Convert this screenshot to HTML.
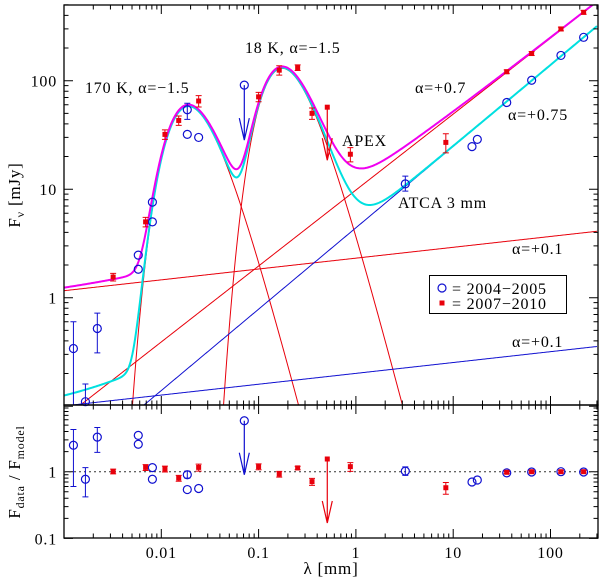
<!DOCTYPE html>
<html><head><meta charset="utf-8"><style>
html,body{margin:0;padding:0;background:#fff;width:600px;height:582px;overflow:hidden}
svg{display:block;font-family:"Liberation Serif",serif;letter-spacing:0.8px}
</style></head><body>
<svg id="chart" width="600" height="582" viewBox="0 0 600 582" xmlns="http://www.w3.org/2000/svg">
<defs><clipPath id="ctop"><rect x="64" y="5" width="534" height="400"/></clipPath>
<clipPath id="cbot"><rect x="64" y="405" width="534" height="133"/></clipPath></defs>
<g id="topPanel"></g>
<g id="botPanel"></g>
</svg>
<script>
// ---- data ----
const blueLam = [0.00125,0.00166,0.0022,0.0058,0.0058,0.0081,0.0081,0.0185,0.0185,0.0242,3.22,15.6,17.7,35.5,64,128,219];
const blueFlux = [0.34,0.11,0.52,2.47,1.83,7.6,5.0,32,54,30,11.2,24.7,28.8,63,101,171,251];
const blueErrLo = [0.1,0.1,0.31,0,0,0,0,0,44,0,9.6,0,0,0,0,0,0];
const blueErrHi = [0.6,0.16,0.72,0,0,0,0,0,62,0,13.2,0,0,0,0,0,0];
const blueRatio = [2.49,0.77,3.3,3.5,2.58,1.15,0.77,0.54,0.90,0.56,1.02,0.70,0.75,0.96,0.99,1.0,0.99];
const blueRatioLo = [0.6,0.42,1.95,0,0,0,0,0,0.8,0,0.88,0,0,0,0,0,0];
const blueRatioHi = [4.3,1.15,4.6,0,0,0,0,0,1.02,0,1.18,0,0,0,0,0,0];
const blueLimLam = [0.0713]; const blueLimFlux = [91]; const blueLimRatio = [5.8];
const redLam = [0.0032,0.0069,0.0109,0.0151,0.0242,0.1,0.163,0.252,0.354,0.877,8.4,35.5,64,128,219];
const redFlux = [1.55,5.0,32,43,65,71,125,132,50,21,27,121,178,300,427];
const redErrFrac = [0.08,0.1,0.1,0.1,0.12,0.1,0.1,0.06,0.12,0.15,0.2,0.04,0.04,0.04,0.04];
const redRatio = [1.01,1.16,1.10,0.80,1.16,1.19,0.92,1.14,0.71,1.19,0.575,0.98,1.0,1.0,1.0];
const redLimLam = [0.508]; const redLimFlux = [57]; const redLimRatio = [1.55];
// model parameters
const bbTemps = [170, 18.5]; const bbPeaks = [58, 130]; const bbIndex = 4.5;
const redPL = [[1.16,0.001,0.1],[427,219,0.7]];
const bluePL = [[0.355,300,0.1],[251,219,0.75]];
const xTicks = [0.01,0.1,1,10,100]; const xTickLabels = ["0.01","0.1","1","10","100"];
const yTopTicks = [1,10,100]; const yTopLabels = ["1","10","100"];
const yBotTicks = [0.1,1]; const yBotLabels = ["0.1","1"];

// ---- axes ----
const L=64,R=598,T=5,M=405,B=538;
const X = l => L + (Math.log10(l)+3)*97.3;
const Yt = f => 80.7 - (Math.log10(f)-2)*108.5;
const Yb = r => 471.7 - Math.log10(r)*66.7;
const NS="http://www.w3.org/2000/svg";
function mk(tag, attrs, parent){const e=document.createElementNS(NS,tag);for(const k in attrs)e.setAttribute(k,attrs[k]);parent.appendChild(e);return e;}
const topG=document.getElementById('topPanel'), botG=document.getElementById('botPanel');

function bb(l,i){const c=14.388/bbTemps[i];const xp=4.45;const pk=Math.pow(xp,bbIndex)/(Math.exp(xp)-1);const x=c/l;return bbPeaks[i]*Math.pow(x,bbIndex)/(Math.exp(x)-1)/pk;}
function pl(l,p){return p[0]*Math.pow(l/p[1],p[2]);}
function drawCurve(fn,lo,hi,parent,stroke,w,name){let d="";const n=600;for(let k=0;k<=n;k++){const lg=Math.log10(lo)+(Math.log10(hi)-Math.log10(lo))*k/n;const l=Math.pow(10,lg);const f=fn(l);if(!(f>0))continue;let y=Yt(f);if(y>2000)y=2000;d+=(d?"L":"M")+X(l).toFixed(2)+","+y.toFixed(2);}
const p=mk('path',{d:d,fill:'none',stroke:stroke,'stroke-width':w,'clip-path':'url(#ctop)'},parent);

}
const RED="#e8000b", BLUE="#1010d0";
drawCurve(l=>bb(l,0),0.001,300,topG,RED,1,'bb-170k-component');
drawCurve(l=>bb(l,1),0.001,300,topG,RED,1,'bb-18k-component');
drawCurve(l=>pl(l,redPL[0]),0.001,300,topG,RED,1,'red-alpha-0.1-line');
drawCurve(l=>pl(l,redPL[1]),0.001,300,topG,RED,1,'red-alpha-0.7-line');
drawCurve(l=>pl(l,bluePL[0]),0.001,300,topG,BLUE,1,'blue-alpha-0.1-line');
drawCurve(l=>pl(l,bluePL[1]),0.001,300,topG,BLUE,1,'blue-alpha-0.75-line');
drawCurve(l=>bb(l,0)+bb(l,1)+pl(l,bluePL[0])+pl(l,bluePL[1]),0.001,300,topG,"#00e0e0",2,'model-2004-cyan');
drawCurve(l=>bb(l,0)+bb(l,1)+pl(l,redPL[0])+pl(l,redPL[1]),0.001,300,topG,"#f000f0",2,'model-2007-magenta');

// ---- frames & ticks ----
function frame(y0,y1,yfun,ymin,ymax,parent,name){
 const r=mk('rect',{x:L,y:y0,width:R-L,height:y1-y0,fill:'none',stroke:'#000','stroke-width':1.3},parent);
 
 
 let d="";
 for(let e=-3;e<=2;e++)for(let m=1;m<10;m++){const v=m*Math.pow(10,e);if(v>300)continue;const x=X(v);const len=m==1?9:4.5;d+=`M${x},${y1}v${-len}M${x},${y0}v${len}`;}
 for(let e=-2;e<=2;e++)for(let m=1;m<10;m++){const v=m*Math.pow(10,e);if(v<ymin||v>ymax)continue;const y=yfun(v);const len=m==1?9:4.5;d+=`M${L},${y}h${len}M${R},${y}h${-len}`;}
 const t=mk('path',{d:d,stroke:'#000','stroke-width':1,fill:'none'},parent);
 
 
}
frame(T,M,Yt,0.1,520,topG,'top-panel');
frame(M,B,Yb,0.1,10,botG,'bottom-panel');
function txt(s,x,y,parent,name,anchor,size){const t=mk('text',{x:x,y:y,'font-size':size||16,'text-anchor':anchor||'start',fill:'#000'},parent);t.textContent=s;return t;}
xTicks.forEach((v,i)=>txt(xTickLabels[i],X(v),558,botG,'x-tick-label','middle',16));
yTopTicks.forEach((v,i)=>txt(yTopLabels[i],57,Yt(v)+6,topG,'y-tick-label','end',16));
yBotTicks.forEach((v,i)=>txt(yBotLabels[i],57,Yb(v)+6,botG,'ratio-tick-label','end',16));
const dl=mk('line',{x1:L,x2:R,y1:Yb(1),y2:Yb(1),stroke:'#333','stroke-width':1,'stroke-dasharray':'2,3'},botG);



// ---- markers ----
function circ(x,y,parent){const c=mk('circle',{cx:x,cy:y,r:4,fill:'none',stroke:BLUE,'stroke-width':1.2},parent);}
function sq(x,y,parent){const c=mk('rect',{x:x-2.5,y:y-2.5,width:5,height:5,fill:RED},parent);}
function err(x,y1,y2,col,parent){const e=mk('path',{d:`M${x},${y1}V${y2}M${x-3},${y1}h6M${x-3},${y2}h6`,stroke:col,'stroke-width':1,fill:'none'},parent);}
function arrow(x,y1,y2,col,parent){const e=mk('path',{d:`M${x},${y1}V${y2}M${x-5},${y2-22}L${x},${y2}L${x+5},${y2-22}`,stroke:col,'stroke-width':1.2,fill:'none'},parent);}
blueLam.forEach((l,i)=>{const x=X(l);
 if(blueErrHi[i]>0)err(x,Yt(blueErrHi[i]),Math.min(Yt(blueErrLo[i]),M),BLUE,topG);
 circ(x,Yt(blueFlux[i]),topG);
 if(blueRatioHi[i]>0)err(x,Yb(blueRatioHi[i]),Yb(blueRatioLo[i]),BLUE,botG);
 circ(x,Yb(blueRatio[i]),botG);});
redLam.forEach((l,i)=>{const x=X(l),f=redFlux[i],e=redErrFrac[i];
 err(x,Yt(f*(1+e)),Yt(f*(1-e)),RED,topG);sq(x,Yt(f),topG);
 err(x,Yb(redRatio[i]*(1+e)),Yb(redRatio[i]*(1-e)),RED,botG);sq(x,Yb(redRatio[i]),botG);});
blueLimLam.forEach((l,i)=>{const x=X(l);circ(x,Yt(blueLimFlux[i]),topG);arrow(x,Yt(blueLimFlux[i]),Yt(blueLimFlux[i])+55,BLUE,topG);
 circ(x,Yb(blueLimRatio[i]),botG);arrow(x,Yb(blueLimRatio[i]),Yb(blueLimRatio[i])+54,BLUE,botG);});
redLimLam.forEach((l,i)=>{const x=X(l);sq(x,Yt(redLimFlux[i]),topG);arrow(x,Yt(redLimFlux[i]),Yt(redLimFlux[i])+53,RED,topG);
 sq(x,Yb(redLimRatio[i]),botG);arrow(x,Yb(redLimRatio[i]),Yb(redLimRatio[i])+64,RED,botG);});

// ---- annotations ----
txt("170 K, \u03b1=\u22121.5",85,93,topG,'label-170k');
txt("18 K, \u03b1=\u22121.5",245,53,topG,'label-18k');
txt("\u03b1=+0.7",415,93,topG,'label-alpha-0.7');
txt("\u03b1=+0.75",508,120,topG,'label-alpha-0.75');
txt("APEX",342,146,topG,'label-apex');
txt("ATCA 3 mm",398,208,topG,'label-atca');
txt("\u03b1=+0.1",512,254,topG,'label-red-alpha-0.1');
txt("\u03b1=+0.1",512,347,topG,'label-blue-alpha-0.1');
const lg=mk('g',{},topG);
mk('rect',{x:429.5,y:275.5,width:137,height:38,fill:'#fff',stroke:'#000','stroke-width':1},lg);
circ(442,288,lg);txt("=  2004\u22122005",452,294,lg,'legend-entry-2004');
sq(442,303,lg);txt("=  2007\u22122010",452,309,lg,'legend-entry-2007');
const yt=txt("",0,0,topG,'y-axis-title','middle',17);yt.setAttribute('transform','translate(20,195) rotate(-90)');
yt.innerHTML='F<tspan font-size="12" dy="4">\u03bd</tspan><tspan dy="-4"> [mJy]</tspan>';
const yb=txt("",0,0,botG,'ratio-axis-title','middle',17);yb.setAttribute('transform','translate(20,472) rotate(-90)');
yb.innerHTML='F<tspan font-size="12" dy="4">data</tspan><tspan dy="-4">  /  F</tspan><tspan font-size="12" dy="4">model</tspan>';
txt("\u03bb [mm]",331,574,botG,'x-axis-title','middle',17);
</script>
</body></html>
